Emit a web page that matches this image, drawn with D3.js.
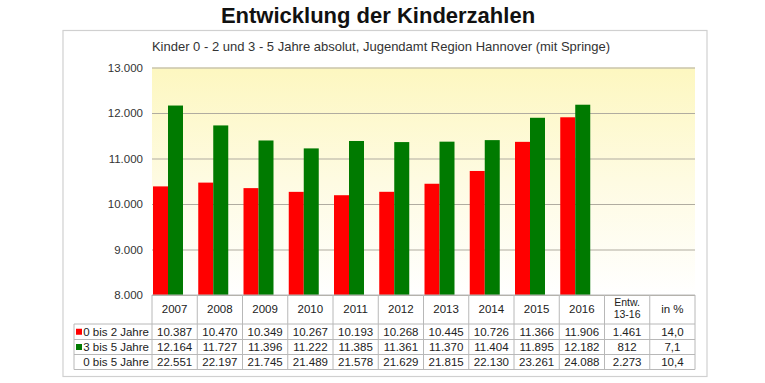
<!DOCTYPE html>
<html lang="de">
<head>
<meta charset="utf-8">
<title>Entwicklung der Kinderzahlen</title>
<script src="https://cdn.jsdelivr.net/npm/d3@7"></script>
<style>
  body { margin: 0; background: white; font-family: "Liberation Sans", Arial, sans-serif; }
  svg text { fill: #222; }
</style>
</head>
<body>
<svg id="chart" width="765" height="383"></svg>
<script>
// Daten
var years = ["2007", "2008", "2009", "2010", "2011", "2012", "2013", "2014", "2015", "2016"];
var extraCols = ["Entw.\n13-16", "in %"];
var seriesNames = ["0 bis 2 Jahre", "3 bis 5 Jahre"];
var seriesColors = ["#ff0000", "#007a00"];
var kids0to2 = [10387, 10470, 10349, 10267, 10193, 10268, 10445, 10726, 11366, 11906];
var kids3to5 = [12164, 11727, 11396, 11222, 11385, 11361, 11370, 11404, 11895, 12182];
var kids0to5 = [22551, 22197, 21745, 21489, 21578, 21629, 21815, 22130, 23261, 24088];
var entw = [1461, 812, 2273];
var entwPct = [14.0, 7.1, 10.4];
var yTicks = [8000, 9000, 10000, 11000, 12000, 13000];

var de = d3.formatLocale({decimal: ",", thousands: ".", grouping: [3], currency: ["", " €"]});
var fmtInt = de.format(",d");
var fmtPct = de.format(".1f");

var svg = d3.select("#chart");

// Rahmen
svg.append("rect")
  .attr("x", 63).attr("y", 30.5).attr("width", 644).attr("height", 346)
  .attr("fill", "white").attr("stroke", "#d0d0d0").attr("stroke-width", 1.2);

svg.append("text")
  .attr("x", 378).attr("y", 23)
  .attr("text-anchor", "middle")
  .style("font-size", "22px").style("font-weight", "bold")
  .style("fill", "#111")
  .text("Entwicklung der Kinderzahlen");

svg.append("text")
  .attr("x", 381).attr("y", 51)
  .attr("text-anchor", "middle")
  .style("font-size", "13px").style("fill", "#333")
  .text("Kinder 0 - 2 und 3 - 5 Jahre absolut, Jugendamt Region Hannover (mit Springe)");

var x = d3.scaleBand().domain(years.concat(extraCols)).range([152, 695]).padding(0);
var y = d3.scaleLinear().domain([8000, 13000]).range([295, 67.5]);
var xs = d3.scaleBand().domain(seriesNames).range([1, 31]).padding(0);

// Hintergrund Verlauf
var grad = svg.append("defs").append("linearGradient")
  .attr("id", "bg").attr("x1", 0).attr("y1", 0).attr("x2", 0).attr("y2", 1);
grad.append("stop").attr("offset", "0%").attr("stop-color", "#fdf7c0");
grad.append("stop").attr("offset", "50%").attr("stop-color", "#fefbe2");
grad.append("stop").attr("offset", "100%").attr("stop-color", "#ffffff");

svg.append("rect")
  .attr("x", 152).attr("y", y(13000))
  .attr("width", 695 - 152).attr("height", y(8000) - y(13000))
  .attr("fill", "url(#bg)");

// Gitter + Achse
var yAxis = svg.append("g")
  .attr("transform", "translate(152,0)")
  .call(d3.axisLeft(y).tickValues(yTicks).tickFormat(fmtInt).tickSize(-(695 - 152)).tickPadding(9));
yAxis.select(".domain").remove();
yAxis.selectAll(".tick line").attr("stroke", "#b0aca0").attr("stroke-width", 1.2);
yAxis.selectAll(".tick text")
  .style("font-size", "11.5px").style("fill", "#333")
  .style("font-family", "'Liberation Sans', Arial, sans-serif");

// Balken
var rows = years.map(function(yr, i) { return {year: yr, vals: [kids0to2[i], kids3to5[i]]}; });
var groups = svg.selectAll("g.grp").data(rows).enter().append("g")
  .attr("class", "grp")
  .attr("transform", function(d) { return "translate(" + x(d.year) + ",0)"; });
groups.selectAll("rect").data(function(d) { return d.vals; }).enter().append("rect")
  .attr("x", function(d, i) { return xs(seriesNames[i]); })
  .attr("width", xs.bandwidth())
  .attr("y", function(d) { return y(d); })
  .attr("height", function(d) { return y(8000) - y(d); })
  .attr("fill", function(d, i) { return seriesColors[i]; });

// Datentabelle
var rowTop = [295, 324, 339.5, 354.5, 369.5];
var tbl = svg.append("g").attr("class", "tbl");
var lineCol = "#b8b8b8";

// horizontale Linien
tbl.selectAll("line.h").data(rowTop).enter().append("line")
  .attr("x1", function(d, i) { return i === 0 ? 152 : 74; })
  .attr("x2", 695)
  .attr("y1", function(d) { return d; }).attr("y2", function(d) { return d; })
  .attr("stroke", lineCol);
// vertikale Linien
var vx = [74].concat(x.domain().map(function(c) { return x(c); })).concat([695]);
tbl.selectAll("line.v").data(vx).enter().append("line")
  .attr("x1", function(d) { return d; }).attr("x2", function(d) { return d; })
  .attr("y1", function(d, i) { return i === 0 ? rowTop[1] : rowTop[0]; })
  .attr("y2", rowTop[4])
  .attr("stroke", lineCol);

// Kopfzeile
x.domain().forEach(function(c) {
  var parts = c.split("\n");
  var t = tbl.append("text")
    .attr("x", x(c) + x.bandwidth() / 2)
    .attr("text-anchor", "middle")
    .style("font-size", parts.length > 1 ? "10.5px" : "11.5px");
  if (parts.length > 1) {
    t.attr("y", 306);
    parts.forEach(function(p, k) {
      t.append("tspan").attr("x", x(c) + x.bandwidth() / 2).attr("dy", k === 0 ? 0 : 12).text(p);
    });
  } else {
    t.attr("y", 313).text(c);
  }
});

// Datenzeilen
var tableRows = [
  {label: seriesNames[0], color: seriesColors[0], vals: kids0to2, e: entw[0], p: entwPct[0]},
  {label: seriesNames[1], color: seriesColors[1], vals: kids3to5, e: entw[1], p: entwPct[1]},
  {label: "0 bis 5 Jahre", color: null, vals: kids0to5, e: entw[2], p: entwPct[2]}
];
tableRows.forEach(function(r, ri) {
  var cy = (rowTop[ri + 1] + rowTop[ri + 2]) / 2;
  tbl.append("text")
    .attr("x", 149).attr("y", cy + 4)
    .attr("text-anchor", "end")
    .style("font-size", "11.5px")
    .text(r.label);
  if (r.color) {
    tbl.append("rect")
      .attr("x", 76).attr("y", cy - 3).attr("width", 6).attr("height", 6)
      .attr("fill", r.color);
  }
  var cells = r.vals.map(fmtInt).concat([fmtInt(r.e), fmtPct(r.p)]);
  x.domain().forEach(function(c, ci) {
    tbl.append("text")
      .attr("x", x(c) + x.bandwidth() / 2).attr("y", cy + 4)
      .attr("text-anchor", "middle")
      .style("font-size", "11.5px")
      .text(cells[ci]);
  });
});
</script>
</body>
</html>
